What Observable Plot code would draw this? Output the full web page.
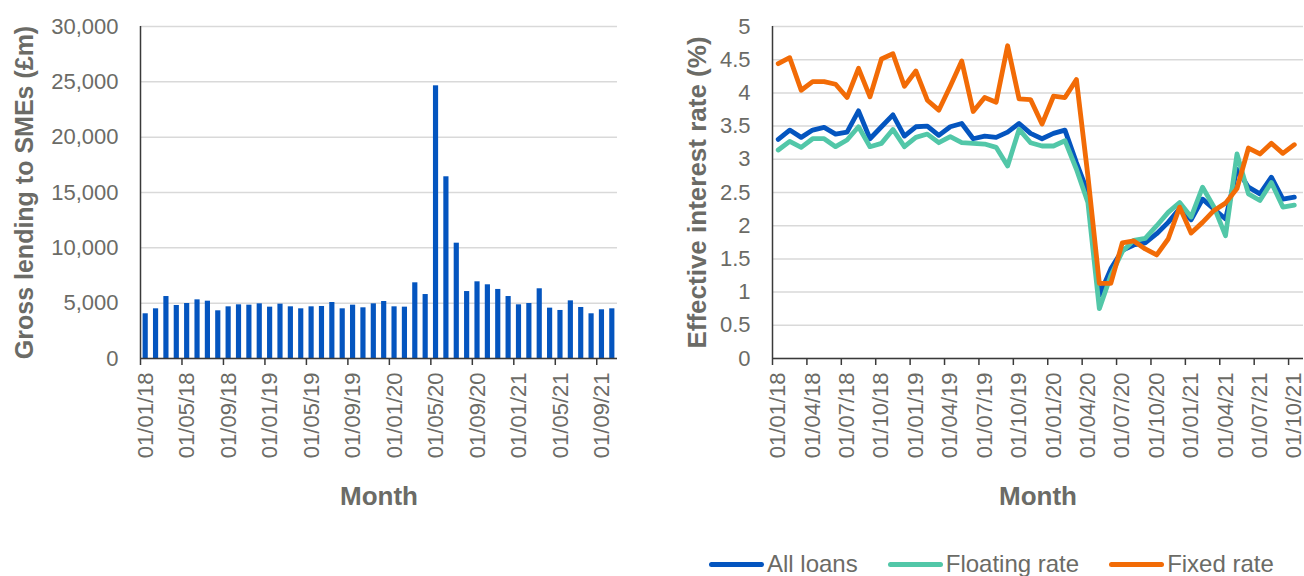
<!DOCTYPE html>
<html>
<head>
<meta charset="utf-8">
<script src="https://cdn.jsdelivr.net/npm/d3@7"></script>
<script src="https://cdn.jsdelivr.net/npm/@observablehq/plot@0.6"></script>
<style>
  body { margin: 0; background: #fff; width: 1304px; height: 576px; overflow: hidden; position: relative;
         font-family: "Liberation Sans", Arial, sans-serif; }
  #left { position: absolute; left: 0; top: 0; }
  #right { position: absolute; left: 650px; top: 0; }
  #legend { position: absolute; left: 709px; top: 550px; display: flex; align-items: center;
            font-size: 24px; line-height: 28px; color: #6b6b66; white-space: nowrap; }
  .item { display: flex; align-items: center; margin-right: 30px; }
  .sw { width: 55px; height: 5px; border-radius: 3px; margin-right: 3px; }
</style>
</head>
<body>
<div id="left"></div>
<div id="right"></div>
<div id="legend"></div>
<script>
// Month labels (Jan 2018 – Oct 2021)
const months = [
  "01/01/18","01/02/18","01/03/18","01/04/18","01/05/18","01/06/18","01/07/18","01/08/18","01/09/18","01/10/18","01/11/18","01/12/18",
  "01/01/19","01/02/19","01/03/19","01/04/19","01/05/19","01/06/19","01/07/19","01/08/19","01/09/19","01/10/19","01/11/19","01/12/19",
  "01/01/20","01/02/20","01/03/20","01/04/20","01/05/20","01/06/20","01/07/20","01/08/20","01/09/20","01/10/20","01/11/20","01/12/20",
  "01/01/21","01/02/21","01/03/21","01/04/21","01/05/21","01/06/21","01/07/21","01/08/21","01/09/21","01/10/21"
];

// Gross lending to SMEs (£m)
const lending = [
  4040, 4490, 5600, 4790, 4970, 5300, 5180, 4310, 4670, 4850, 4820, 4940,
  4640, 4910, 4670, 4490, 4670, 4700, 5060, 4490, 4820, 4580, 4940, 5150,
  4670, 4640, 6840, 5780, 24640, 16420, 10420, 6050, 6930, 6660, 6240, 5600,
  4850, 4970, 6300, 4550, 4340, 5210, 4610, 4040, 4400, 4490
];

// Effective interest rates (%)
const allLoans = [
  3.30, 3.44, 3.33, 3.44, 3.48, 3.38, 3.41, 3.73, 3.31, 3.49, 3.67, 3.35,
  3.49, 3.50, 3.36, 3.49, 3.54, 3.31, 3.35, 3.33, 3.41, 3.54, 3.39, 3.31,
  3.39, 3.44, 2.95, 2.50, 0.95, 1.35, 1.63, 1.71, 1.74, 1.88, 2.05, 2.26,
  2.09, 2.40, 2.25, 2.10, 2.85, 2.58, 2.48, 2.73, 2.40, 2.43
];
const floatingRate = [
  3.14, 3.27, 3.18, 3.31, 3.31, 3.19, 3.29, 3.49, 3.19, 3.24, 3.45, 3.19,
  3.33, 3.38, 3.25, 3.34, 3.25, 3.24, 3.23, 3.18, 2.90, 3.45, 3.25, 3.20,
  3.20, 3.28, 2.85, 2.35, 0.75, 1.25, 1.61, 1.78, 1.81, 2.00, 2.20, 2.35,
  2.13, 2.58, 2.28, 1.85, 3.08, 2.48, 2.38, 2.65, 2.28, 2.31
];
const fixedRate = [
  4.44, 4.53, 4.04, 4.17, 4.17, 4.13, 3.93, 4.37, 3.94, 4.51, 4.59, 4.10,
  4.33, 3.89, 3.74, 4.10, 4.48, 3.72, 3.93, 3.86, 4.71, 3.91, 3.90, 3.53,
  3.95, 3.93, 4.20, 2.75, 1.13, 1.13, 1.74, 1.77, 1.65, 1.56, 1.80, 2.28,
  1.89, 2.05, 2.23, 2.34, 2.56, 3.17, 3.08, 3.24, 3.09, 3.22
];

const seriesNames = ["All loans", "Floating rate", "Fixed rate"];
const seriesColors = ["#0455bf", "#52c7a8", "#f26b06"];
const lendingTicks = [0, 5000, 10000, 15000, 20000, 25000, 30000];
const rateTicks = [0, 0.5, 1, 1.5, 2, 2.5, 3, 3.5, 4, 4.5, 5];

const textColor = "#6b6b66";
const axisColor = "#3a3a3a";
const gridColor = "#d9d9d9";
const fontFamily = '"Liberation Sans", Arial, sans-serif';
const tickFont = 22;
const titleFont = 26;

// ---------- Left chart ----------
const barData = lending.map((v, i) => ({i, v}));
const leftTickPos = d3.range(0, months.length, 4);

const left = Plot.plot({
  width: 650, height: 520,
  marginLeft: 140, marginRight: 33, marginTop: 26, marginBottom: 162,
  style: {fontFamily, background: "white", overflow: "visible"},
  x: {domain: [0, months.length], axis: null},
  y: {domain: [0, 30000], axis: null},
  marks: [
    Plot.gridY(lendingTicks, {stroke: gridColor, strokeOpacity: 1, strokeWidth: 1.5}),
    Plot.rectY(barData, {x1: "i", x2: d => d.i + 1, y: "v", insetLeft: 2.6, insetRight: 2.6, fill: seriesColors[0]}),
    Plot.axisY(lendingTicks, {tickSize: 0, tickPadding: 22, tickFormat: d3.format(","), fontSize: tickFont, fill: textColor, label: null}),
    Plot.ruleX([0], {stroke: axisColor, strokeWidth: 1.5}),
    Plot.ruleY([0], {stroke: axisColor, strokeWidth: 1.5}),
    Plot.axisX(leftTickPos, {tickSize: 7, stroke: axisColor, strokeWidth: 1.5, tickFormat: () => "", label: null}),
    Plot.axisX(leftTickPos.map(i => i + 0.5), {tickSize: 0, tickPadding: 14, tickRotate: -90, fontSize: tickFont, fill: textColor,
      tickFormat: d => months[Math.floor(d)], label: null}),
    Plot.text(["Month"], {frameAnchor: "bottom", dy: 146, fontSize: titleFont, fontWeight: "bold", fill: textColor}),
    Plot.text(["Gross lending to SMEs (£m)"], {frameAnchor: "left", textAnchor: "middle", lineAnchor: "middle", dx: -116, rotate: -90,
      fontSize: titleFont - 1, fontWeight: "bold", fill: textColor})
  ]
});
document.getElementById("left").appendChild(left);

// ---------- Right chart ----------
const lineData = [];
[allLoans, floatingRate, fixedRate].forEach((arr, s) =>
  arr.forEach((v, i) => lineData.push({series: seriesNames[s], i, v})));
const rightTickPos = d3.range(0, months.length, 3);

const right = Plot.plot({
  width: 654, height: 520,
  marginLeft: 122, marginRight: 1, marginTop: 26, marginBottom: 162,
  style: {fontFamily, background: "white", overflow: "visible"},
  x: {domain: [0, months.length + 0.3], axis: null},
  y: {domain: [0, 5], axis: null},
  color: {domain: seriesNames, range: seriesColors},
  marks: [
    Plot.gridY(rateTicks, {stroke: gridColor, strokeOpacity: 1, strokeWidth: 1.5}),
    Plot.axisY(rateTicks, {tickSize: 0, tickPadding: 22, tickFormat: d => String(d), fontSize: tickFont, fill: textColor, label: null}),
    Plot.ruleX([0], {stroke: axisColor, strokeWidth: 1.5}),
    Plot.ruleY([0], {stroke: axisColor, strokeWidth: 1.5}),
    Plot.axisX(rightTickPos, {tickSize: 7, stroke: axisColor, strokeWidth: 1.5, tickFormat: () => "", label: null}),
    Plot.axisX(rightTickPos.map(i => i + 0.5), {tickSize: 0, tickPadding: 14, tickRotate: -90, fontSize: tickFont, fill: textColor,
      tickFormat: d => months[Math.floor(d)], label: null}),
    Plot.line(lineData, {x: d => d.i + 0.5, y: "v", z: "series", stroke: "series", strokeWidth: 4.8,
      strokeLinejoin: "round", strokeLinecap: "round"}),
    Plot.text(["Month"], {frameAnchor: "bottom", dy: 146, fontSize: titleFont, fontWeight: "bold", fill: textColor}),
    Plot.text(["Effective interest rate (%)"], {frameAnchor: "left", textAnchor: "middle", lineAnchor: "middle", dx: -75, rotate: -90,
      fontSize: titleFont, fontWeight: "bold", fill: textColor})
  ]
});
document.getElementById("right").appendChild(right);

// ---------- Legend ----------
const legend = document.getElementById("legend");
seriesNames.forEach((name, k) => {
  const item = document.createElement("div");
  item.className = "item";
  item.innerHTML = `<span class="sw" style="background:${seriesColors[k]}"></span><span>${name}</span>`;
  legend.appendChild(item);
});
</script>
</body>
</html>
